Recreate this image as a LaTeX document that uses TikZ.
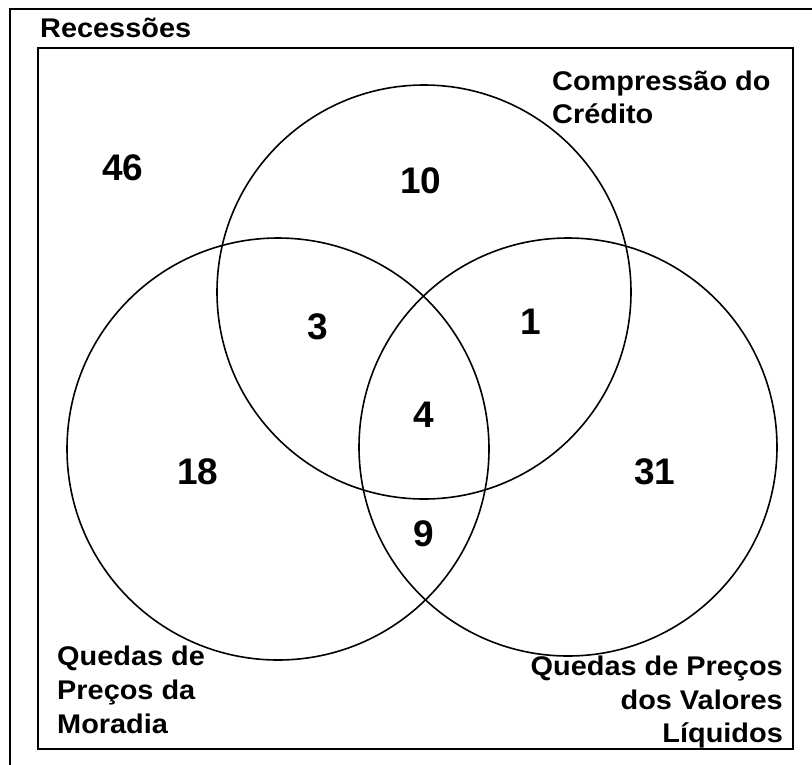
\documentclass[tikz,border=0pt]{standalone}
\usepackage{fontspec}
\setmainfont{Liberation Sans}
\begin{document}
\begin{tikzpicture}[x=1pt,y=-1pt,
  frame/.style={draw=black,line width=2pt},
  setc/.style={draw=black,line width=1.6pt},
  num/.style={font=\fontsize{37}{40}\selectfont\bfseries,inner sep=0pt},
  lbl/.style={font=\fontsize{27}{30}\selectfont\bfseries,inner sep=0pt}]
\useasboundingbox (0,0) rectangle (812,764);
\begin{scope}
\clip (0,0) rectangle (812,764);
\draw[frame] (10,9) rectangle (830,790);
\end{scope}
\draw[frame] (38,48) rectangle (793,749);
\node[lbl,anchor=base west] (rec) at (40,37) {\scalebox{1.07}[1]{Recessões}};
% circles
\draw[setc] (424,292) circle[radius=207pt];
\draw[setc] (278,449) circle[radius=211pt];
\draw[setc] (568,447) circle[radius=209pt];
% labels
\node[lbl,anchor=base west] (c1) at (552,90) {\scalebox{1.07}[1]{Compressão do}};
\node[lbl,anchor=base west] (c2) at (552,123) {\scalebox{1.07}[1]{Crédito}};
\node[lbl,anchor=base west] (m1) at (57,665) {\scalebox{1.07}[1]{Quedas de}};
\node[lbl,anchor=base west] (m2) at (57,699) {\scalebox{1.07}[1]{Preços da}};
\node[lbl,anchor=base west] (m3) at (57,733) {\scalebox{1.07}[1]{Moradia}};
\node[lbl,anchor=base east] (v1) at (783,675) {\scalebox{1.07}[1]{Quedas de Preços}};
\node[lbl,anchor=base east] (v2) at (783,709) {\scalebox{1.07}[1]{dos Valores}};
\node[lbl,anchor=base east] (v3) at (783,742) {\scalebox{1.07}[1]{Líquidos}};
% numbers
\node[num] (n46) at (123,168) {46};
\node[num] (n10) at (421,181) {10};
\node[num] (n3) at (318,327) {3};
\node[num] (n1) at (531,322) {1};
\node[num] (n4) at (424,415) {4};
\node[num] (n18) at (198,472) {18};
\node[num] (n31) at (655,472) {31};
\node[num] (n9) at (424,534) {9};
\end{tikzpicture}
\end{document}
